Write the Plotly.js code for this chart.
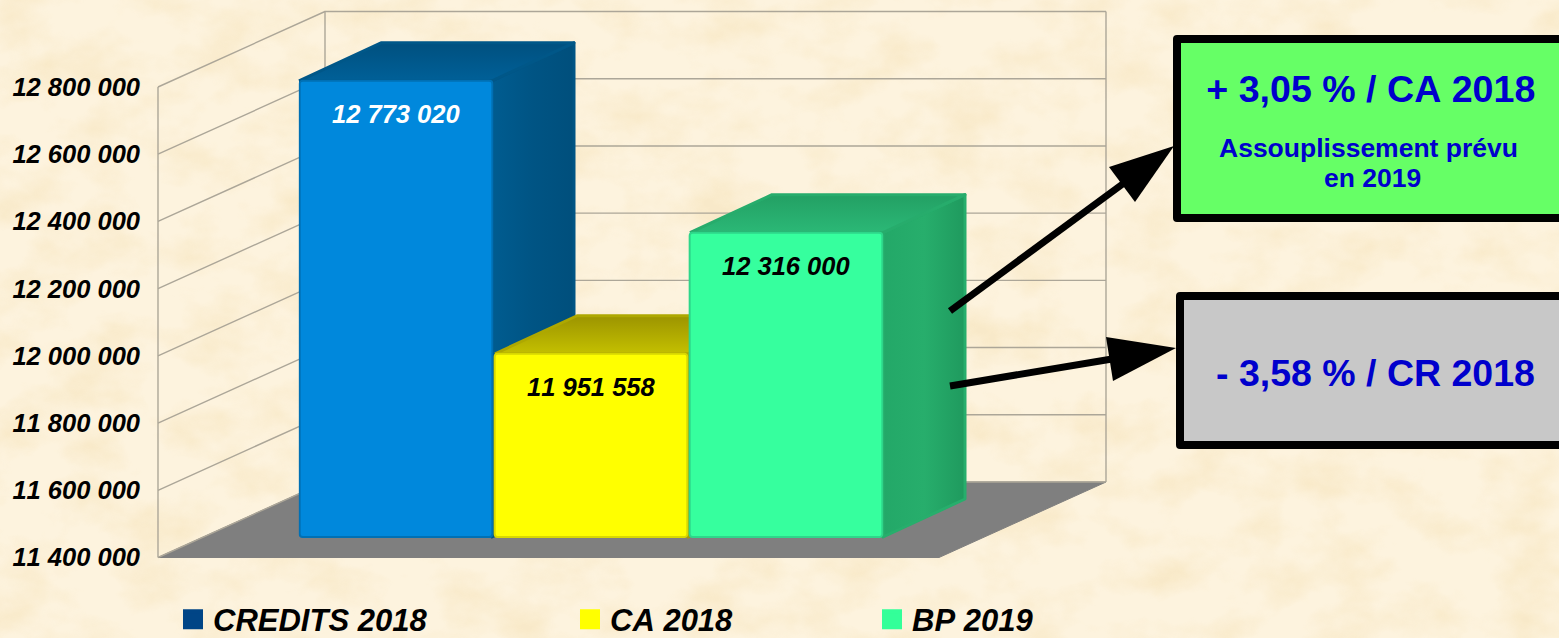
<!DOCTYPE html>
<html>
<head>
<meta charset="utf-8">
<script src="https://cdn.plot.ly/plotly-3.0.1.min.js"></script>
<style>
html,body{margin:0;padding:0;background-color:#fcf1da;}
body{width:1559px;height:638px;overflow:hidden;position:relative;}
#tex{position:absolute;left:0;top:0;width:1559px;height:638px;}
#chart{position:absolute;left:0;top:0;width:1559px;height:638px;}
#chart text{font-kerning:none;}
.shapelayer path{stroke-linejoin:round;}
.scatterlayer .js-line{stroke-linejoin:round;}
</style>
</head>
<body>
<svg id="tex" xmlns="http://www.w3.org/2000/svg" width="1559" height="638">
  <filter id="n" x="0" y="0" width="100%" height="100%" color-interpolation-filters="sRGB">
    <feTurbulence type="fractalNoise" baseFrequency="0.016 0.022" numOctaves="4" seed="11"/>
    <feColorMatrix values="0 0 0 0 0.95  0 0 0 0 0.86  0 0 0 0 0.66  2.2 0 0 0 -0.9"/>
  </filter>
  <rect width="1559" height="638" fill="#fdf3de"/>
  <rect width="1559" height="638" filter="url(#n)" opacity="0.38"/>
</svg>
<div id="chart"></div>
<script>
// ---- data ----
const categories = ['CREDITS 2018', 'CA 2018', 'BP 2019'];
const values = [12773020, 11951558, 12316000];
const valueLabels = ['12 773 020', '11 951 558', '12 316 000'];
const tickVals = [11400000, 11600000, 11800000, 12000000, 12200000, 12400000, 12600000, 12800000];
const tickLabels = ['11 400 000', '11 600 000', '11 800 000', '12 000 000', '12 200 000', '12 400 000', '12 600 000', '12 800 000'];
const frontColors = ['#0088dc', '#ffff00', '#36ff9e'];
const legendColors = ['#004586', '#ffff00', '#33ff99'];
const edgeColors = ['#0070b4', '#d8d800', '#2ed68a'];
const labelColors = ['#ffffff', '#000000', '#000000'];
const sideColors = [['#005c90', '#005484', '#004f7c'], ['#b0a800', '#a8a000', '#a09800'], ['#23a868', '#27ae6c', '#1f9a5e']];
const topColors = [['#00507f', '#006098'], ['#9c9400', '#c4c000'], ['#23a064', '#2bb876']];
const topEdge = ['#005788', '#aea800', '#27ac6c'];

// ---- layout geometry ----
const W = 1559, H = 638, ML = 141;
const BASE = 11400000, TOPV = 12800000;
const pxX = p => (p - ML) / (W - ML);
const pxY = p => 1 - p / H;

// wall/floor plane: tick axis
const kMain = (557.5 - 87) / (TOPV - BASE);
const yMainRange = [BASE - (H - 557.5) / kMain, BASE + 557.5 / kMain];
const mainV = p => BASE + (557.5 - p) / kMain;
// plane of the bars (front faces)
const kBar = 66.45 / 200000;
const yBarRange = [BASE - (H - 537) / kBar, BASE + 537 / kBar];

const wallDX = 167, wallDV = 75.5 / kMain;
const leftX = 158, rightX = 1106;
const barX0 = [299, 495, 690], barW = 193;
const depthX = 82, depthV = 38 / kBar;

const traces = [];
// floor
traces.push({type:'scatter', mode:'lines', xaxis:'x', yaxis:'y', showlegend:false, hoverinfo:'skip',
  x:[leftX, leftX + wallDX, rightX, rightX - wallDX + 0, leftX],
  y:[BASE, BASE + wallDV, BASE + wallDV, BASE, BASE],
  fill:'toself', fillcolor:'#7f7f7f', line:{color:'#7f7f7f', width:1}});
// wall lines
const gx = [], gy = [];
tickVals.forEach(v => {
  gx.push(leftX, leftX + wallDX, rightX, null);
  gy.push(v, v + wallDV, v + wallDV, null);
});
gx.push(leftX, leftX, null, leftX + wallDX, leftX + wallDX, null, rightX, rightX);
gy.push(BASE, TOPV, null, BASE + wallDV, TOPV + wallDV, null, BASE + wallDV, TOPV + wallDV);
traces.push({type:'scatter', mode:'lines', xaxis:'x', yaxis:'y', showlegend:false, hoverinfo:'skip',
  x:gx, y:gy, line:{color:'#aca698', width:1.4}, connectgaps:false});

// depth faces of the bars
values.forEach((v, i) => {
  const x0 = barX0[i], x1 = x0 + barW;
  traces.push({type:'scatter', mode:'lines', xaxis:'x2', yaxis:'y2', showlegend:false, hoverinfo:'skip',
    x:[x1, x1 + depthX, x1 + depthX, x1, x1],
    y:[v, v + depthV, BASE + depthV, BASE, v],
    fill:'toself',
    fillgradient:{type:'horizontal', colorscale:[[0, sideColors[i][0]], [0.5, sideColors[i][1]], [1, sideColors[i][2]]]},
    line:{color:sideColors[i][1], width:3}});
  traces.push({type:'scatter', mode:'lines', xaxis:'x2', yaxis:'y2', showlegend:false, hoverinfo:'skip',
    x:[x0, x0 + depthX, x1 + depthX, x1, x0],
    y:[v, v + depthV, v + depthV, v, v],
    fill:'toself',
    fillgradient:{type:'vertical', colorscale:[[0, topColors[i][1]], [1, topColors[i][0]]]},
    line:{color:topEdge[i], width:3}});
});

// front faces
traces.push({type:'bar', xaxis:'x3', yaxis:'y3', showlegend:false, hoverinfo:'skip',
  x:categories, y:values.map(v => v - BASE), base:BASE,
  marker:{color:frontColors, line:{color:edgeColors, width:2}}});

// legend entries
categories.forEach((c, i) => {
  traces.push({type:'scatter', mode:'markers', xaxis:'x', yaxis:'y', x:[null], y:[null], name:c,
    legend: i === 0 ? 'legend' : 'legend' + (i + 1), showlegend:true, hoverinfo:'skip',
    marker:{symbol:'square', size:16, color:legendColors[i], line:{color:legendColors[i], width:4}}});
});

const FF = '"Liberation Sans", Arial, sans-serif';
const legendOf = px => ({x:pxX(px), xanchor:'left', y:pxY(619.5), yanchor:'middle', bgcolor:'rgba(0,0,0,0)', borderwidth:0,
  itemclick:false, itemdoubleclick:false,
  font:{family:FF, size:31, color:'#000', weight:'bold', style:'italic'}});

const annotations = values.map((v, i) => ({
  xref:'x3', yref:'y3', x:categories[i], y:v, yshift:-33, showarrow:false, text:valueLabels[i],
  font:{family:FF, size:25.5, color:labelColors[i], weight:'bold', style:'italic'}, xanchor:'center', yanchor:'middle'
}));
const boxText = [
  {t:'+ 3,05 % / CA 2018', x:1371, y:89, s:37.6},
  {t:'Assouplissement prévu', x:1368, y:148, s:26.5},
  {t:'en 2019', x:1372, y:178, s:26.5},
  {t:'- 3,58 % / CR 2018', x:1375, y:373, s:37.5}
];
boxText.forEach(b => annotations.push({xref:'paper', yref:'paper', x:pxX(b.x), y:pxY(b.y), showarrow:false, text:b.t,
  xanchor:'center', yanchor:'middle', font:{family:FF, size:b.s, color:'#0000cc', weight:'bold'}}));

const boxes = [
  {x0:1177, x1:1575, y0:39, y1:218, fill:'#66ff66'},
  {x0:1180, x1:1575, y0:296, y1:445, fill:'#c8c8c8'}
].map(b => ({type:'rect', xref:'x', yref:'y', layer:'above', x0:b.x0, x1:b.x1, y0:mainV(b.y0), y1:mainV(b.y1),
  fillcolor:b.fill, line:{color:'#000', width:8}}));

// callout arrows: tail, tip, two head corners (figure pixels)
const arrows = [
  {tail:[950, 311], neck:[1124, 183], tip:[1174, 146], a:[1109, 167], b:[1135, 202]},
  {tail:[950, 386], neck:[1112, 359], tip:[1176, 348], a:[1106, 337], b:[1113, 381]}
];
const shapes = boxes.slice();
arrows.forEach(r => {
  shapes.push({type:'line', xref:'x', yref:'y', layer:'above', x0:r.tail[0], y0:mainV(r.tail[1]), x1:r.neck[0], y1:mainV(r.neck[1]),
    line:{color:'#000', width:7}});
  shapes.push({type:'path', xref:'x', yref:'y', layer:'above', fillcolor:'#000', line:{width:0},
    path:'M' + [r.tip, r.a, r.b].map(p => p[0] + ',' + mainV(p[1])).join('L') + 'Z'});
});

const hidden = {visible:false, fixedrange:true};
const layout = {
  width:W, height:H, margin:{l:ML, r:0, t:0, b:0, pad:0, autoexpand:false},
  paper_bgcolor:'rgba(0,0,0,0)', plot_bgcolor:'rgba(0,0,0,0)',
  hovermode:false, barmode:'overlay', bargap:0.012, barcornerradius:3,
  xaxis:{...hidden, range:[ML, W], domain:[0,1]},
  yaxis:{range:yMainRange, domain:[0,1], tickmode:'array', tickvals:tickVals, ticktext:tickLabels, ticks:'',
    showgrid:false, zeroline:false, showline:false, fixedrange:true, automargin:false,
    tickfont:{family:FF, size:25.5, color:'#000', weight:'bold', style:'italic'}},
  xaxis2:{...hidden, range:[ML, W], domain:[0,1], anchor:'y2'},
  yaxis2:{...hidden, range:yBarRange, domain:[0,1], anchor:'x2'},
  xaxis3:{...hidden, type:'category', categoryorder:'array', categoryarray:categories, domain:[pxX(298.5), pxX(883.5)], anchor:'y3'},
  yaxis3:{...hidden, range:yBarRange, domain:[0,1], anchor:'x3'},
  showlegend:true,
  legend:legendOf(173), legend2:legendOf(570), legend3:legendOf(872),
  annotations:annotations, shapes:shapes
};
Plotly.newPlot('chart', traces, layout, {displayModeBar:false, staticPlot:true});
</script>
</body>
</html>
